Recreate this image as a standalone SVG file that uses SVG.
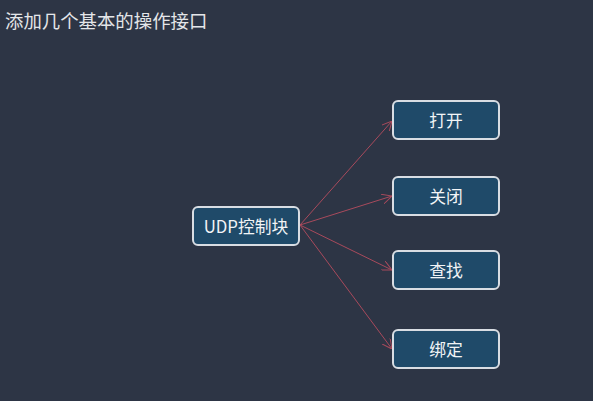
<svg xmlns="http://www.w3.org/2000/svg" width="593" height="401" viewBox="0 0 593 401">
<style>
.box{fill:#1f4a69;stroke:#d8dde3;stroke-width:2}
.lbl{font-family:"Noto Sans CJK SC","Liberation Sans",sans-serif;font-size:16.8px;fill:#f2f4f6;text-anchor:middle;dominant-baseline:central}
.edge{stroke:#a84a5c;stroke-width:1;fill:none}
</style>
<defs>
<marker id="arr" viewBox="0 0 10 10" refX="10" refY="5" markerWidth="10" markerHeight="10" markerUnits="userSpaceOnUse" orient="auto">
<path d="M0,0 L10,5 L0,10" fill="none" stroke="#a84a5c" stroke-width="1"/>
</marker>
</defs>
<rect width="593" height="401" fill="#2d3545"/>
<text x="5" y="28" font-family="Noto Sans CJK SC,Liberation Sans,sans-serif" font-size="18.4" fill="#e4e6e9">添加几个基本的操作接口</text>
<g id="edges">
<line class="edge" x1="300" y1="225" x2="392" y2="121" marker-end="url(#arr)"/>
<line class="edge" x1="300" y1="225" x2="392" y2="196" marker-end="url(#arr)"/>
<line class="edge" x1="300" y1="225" x2="392" y2="270" marker-end="url(#arr)"/>
<line class="edge" x1="300" y1="225" x2="392" y2="349" marker-end="url(#arr)"/>
</g>
<g id="udp"><rect class="box" x="193" y="207" width="106" height="38" rx="5"/><text class="lbl" x="246" y="226">UDP控制块</text></g>
<g id="open"><rect class="box" x="393" y="101" width="106" height="38" rx="5"/><text class="lbl" x="446" y="120">打开</text></g>
<g id="close"><rect class="box" x="393" y="177" width="106" height="38" rx="5"/><text class="lbl" x="446" y="196">关闭</text></g>
<g id="find"><rect class="box" x="393" y="251" width="106" height="38" rx="5"/><text class="lbl" x="446" y="270">查找</text></g>
<g id="bind"><rect class="box" x="393" y="330" width="106" height="38" rx="5"/><text class="lbl" x="446" y="349">绑定</text></g>
</svg>
